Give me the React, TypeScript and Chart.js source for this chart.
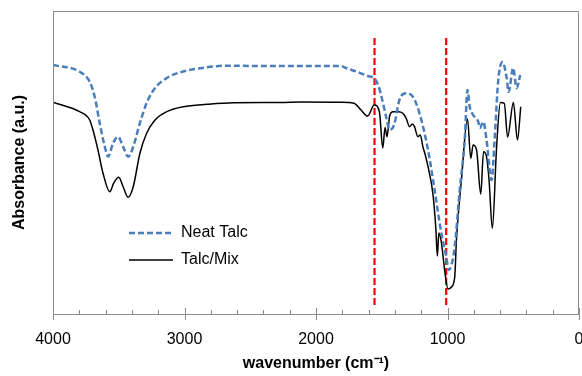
import React, { useEffect, useRef } from "react";
import { Chart, registerables } from "chart.js";

Chart.register(...registerables);

// ---- Data (wavenumber in cm-1, absorbance in arbitrary units) ----
const neatTalcWavenumber = [
  4000, 3798, 3721, 3683, 3645, 3606, 3581, 3543, 3505, 3467, 3428, 3390, 3339, 3288, 3224, 3135,
  3033, 2881, 2677, 2422, 2117, 1811, 1773, 1712, 1658, 1607, 1557, 1528, 1505, 1467, 1440, 1404,
  1366, 1314, 1263, 1213, 1148, 1098, 1047, 1009, 990, 970, 945, 907, 869, 848, 831, 805, 766,
  754, 728, 703, 665, 640, 614, 581, 550, 535, 501, 474, 447,
];
const neatTalcAbsorbance = [
  249, 242.3, 232.3, 217.3, 191, 167.3, 157.3, 171, 177.3, 167.3, 157.3, 167.3, 191, 211, 226, 236,
  241.7, 245.7, 248.3, 248, 248, 248, 246, 243.3, 240.7, 238, 235.7, 229, 219, 197.3, 184, 190,
  214, 220.7, 217.3, 200.7, 164, 124, 81, 57, 44, 49, 67.3, 124, 174, 224, 207.3, 199, 192.3,
  186, 192.3, 174, 134, 178, 234, 252, 236, 222, 246, 226, 239,
];

const talcMixWavenumber = [
  4000, 3798, 3721, 3696, 3658, 3620, 3568, 3538, 3500, 3467, 3428, 3390, 3339, 3288, 3224, 3135,
  3008, 2830, 2626, 2270, 2117, 1811, 1712, 1658, 1607, 1557, 1518, 1492, 1475, 1460, 1440, 1414,
  1375, 1340, 1314, 1289, 1268, 1251, 1225, 1207, 1187, 1169, 1148, 1110, 1089, 1077, 1066, 1047,
  1022, 996, 970, 945, 932, 894, 848, 823, 805, 779, 747, 726, 703, 684, 659, 627, 598, 568, 543,
  499, 468, 443,
];
const talcMixAbsorbance = [
  211.7, 202.3, 194, 184, 164, 141, 122.3, 131, 136.7, 127.3, 116.7, 127.3, 160.7, 180.7, 194, 202.3,
  207.3, 209.7, 211.3, 211.5, 212, 211.7, 210.7, 204, 198, 209, 202.3, 166, 186.5, 177.3, 198, 202.3,
  202.3, 200.7, 195.7, 187.3, 190, 187.3, 177.3, 179, 167.3, 159, 147.3, 119, 86, 58, 81, 72,
  44, 25, 27, 37, 74, 134, 195, 155.7, 169, 164, 120, 162.3, 157.3, 134, 85.7, 166, 211.5, 210.7, 177,
  211.5, 174, 207.3,
];

const markerWavenumbers = [1555, 1010];
const markerRange = [9, 279];

const xTickValues = [4000, 3000, 2000, 1000, 0];
const seriesLabels = ["Neat Talc", "Talc/Mix"];

const AXIS_GRAY = "#8a8a8a";
const BLUE = "#4a7ebb";
const FONT = "'Liberation Sans', Arial, sans-serif";

const frameAndTicks = {
  id: "frameAndTicks",
  afterDraw(chart: any) {
    const { ctx, chartArea } = chart;
    const xs = chart.scales.x;
    ctx.save();
    ctx.strokeStyle = AXIS_GRAY;
    ctx.lineWidth = 1;
    ctx.beginPath();
    ctx.moveTo(chartArea.left + 0.5, chartArea.bottom + 0.5);
    ctx.lineTo(chartArea.left + 0.5, chartArea.top + 0.5);
    ctx.lineTo(chartArea.right - 0.5, chartArea.top + 0.5);
    ctx.lineTo(chartArea.right - 0.5, chartArea.bottom + 0.5);
    ctx.stroke();
    for (let v = 0; v <= 4000; v += 200) {
      const px = Math.round(xs.getPixelForValue(v)) + 0.5;
      const major = v % 1000 === 0;
      ctx.beginPath();
      ctx.moveTo(px, chartArea.bottom - (major ? 6 : 4));
      ctx.lineTo(px, chartArea.bottom + (major ? 6 : 0));
      ctx.stroke();
    }
    ctx.restore();
  },
};

const customLegend = {
  id: "customLegend",
  afterDraw(chart: any) {
    const { ctx, chartArea } = chart;
    const x0 = chartArea.left + 76;
    const x1 = chartArea.left + 120;
    const rows = [
      { y: chartArea.top + 222, color: BLUE, dash: [6, 3], width: 2.5, label: seriesLabels[0] },
      { y: chartArea.top + 249, color: "#000", dash: [], width: 1.5, label: seriesLabels[1] },
    ];
    ctx.save();
    ctx.font = "16px " + FONT;
    ctx.textBaseline = "middle";
    ctx.fillStyle = "#000";
    rows.forEach((r) => {
      ctx.beginPath();
      ctx.setLineDash(r.dash);
      ctx.strokeStyle = r.color;
      ctx.lineWidth = r.width;
      ctx.moveTo(x0, r.y);
      ctx.lineTo(x1, r.y);
      ctx.stroke();
      ctx.setLineDash([]);
      ctx.fillText(r.label, x1 + 8, r.y);
    });
    ctx.restore();
  },
};

export default function App() {
  const canvasRef = useRef<HTMLCanvasElement | null>(null);

  useEffect(() => {
    document.body.style.margin = "0";
    const canvas = canvasRef.current;
    if (!canvas) return;

    const neat = neatTalcWavenumber.map((w, i) => ({ x: w, y: neatTalcAbsorbance[i] }));
    const mix = talcMixWavenumber.map((w, i) => ({ x: w, y: talcMixAbsorbance[i] }));
    const markers = markerWavenumbers.map((w) => ({
      label: "marker",
      data: [
        { x: w, y: markerRange[0] },
        { x: w, y: markerRange[1] },
      ],
      borderColor: "#ff0000",
      borderWidth: 2.2,
      borderDash: [7, 3],
      pointRadius: 0,
      fill: false,
    }));

    const chart = new Chart(canvas, {
      type: "line",
      data: {
        datasets: [
          {
            label: seriesLabels[0],
            data: neat,
            borderColor: BLUE,
            borderWidth: 2.5,
            borderDash: [6, 3],
            pointRadius: 0,
            cubicInterpolationMode: "monotone",
            fill: false,
          },
          {
            label: seriesLabels[1],
            data: mix,
            borderColor: "#000000",
            borderWidth: 1.5,
            pointRadius: 0,
            cubicInterpolationMode: "monotone",
            fill: false,
          },
          ...markers,
        ] as any,
      },
      options: {
        responsive: false,
        animation: false,
        layout: { padding: { top: 11, right: 3, left: 0, bottom: 0 } },
        plugins: {
          legend: { display: false },
          tooltip: { enabled: false },
        },
        scales: {
          x: {
            type: "linear",
            reverse: true,
            min: 0,
            max: 4000,
            grid: { display: false },
            border: { display: true, color: AXIS_GRAY, width: 1 },
            afterBuildTicks: (scale: any) => {
              scale.ticks = xTickValues.map((v) => ({ value: v }));
            },
            afterFit: (scale: any) => {
              scale.height = 62;
              scale.paddingLeft = 0;
              scale.paddingRight = 0;
            },
            ticks: {
              padding: 8,
              color: "#000",
              maxRotation: 0,
              autoSkip: false,
              callback: (v: any) => String(v),
              font: { family: FONT, size: 16 },
            },
            title: {
              display: true,
              text: "wavenumber (cm\u207B\u00B9)",
              color: "#000",
              padding: { top: 0, bottom: 3 },
              font: { family: FONT, size: 16, weight: "bold" },
            },
          },
          y: {
            min: 0,
            max: 303,
            grid: { display: false },
            border: { display: true, color: AXIS_GRAY, width: 1 },
            ticks: { display: false },
            afterFit: (scale: any) => {
              scale.width = 53;
            },
            title: {
              display: true,
              text: "Absorbance (a.u.)",
              color: "#000",
              padding: { top: 10, bottom: 0 },
              font: { family: FONT, size: 16, weight: "bold" },
            },
          },
        },
      },
      plugins: [frameAndTicks, customLegend],
    });

    return () => chart.destroy();
  }, []);

  return (
    <div style={{ width: 582, height: 376 }}>
      <canvas ref={canvasRef} width={582} height={376} />
    </div>
  );
}
